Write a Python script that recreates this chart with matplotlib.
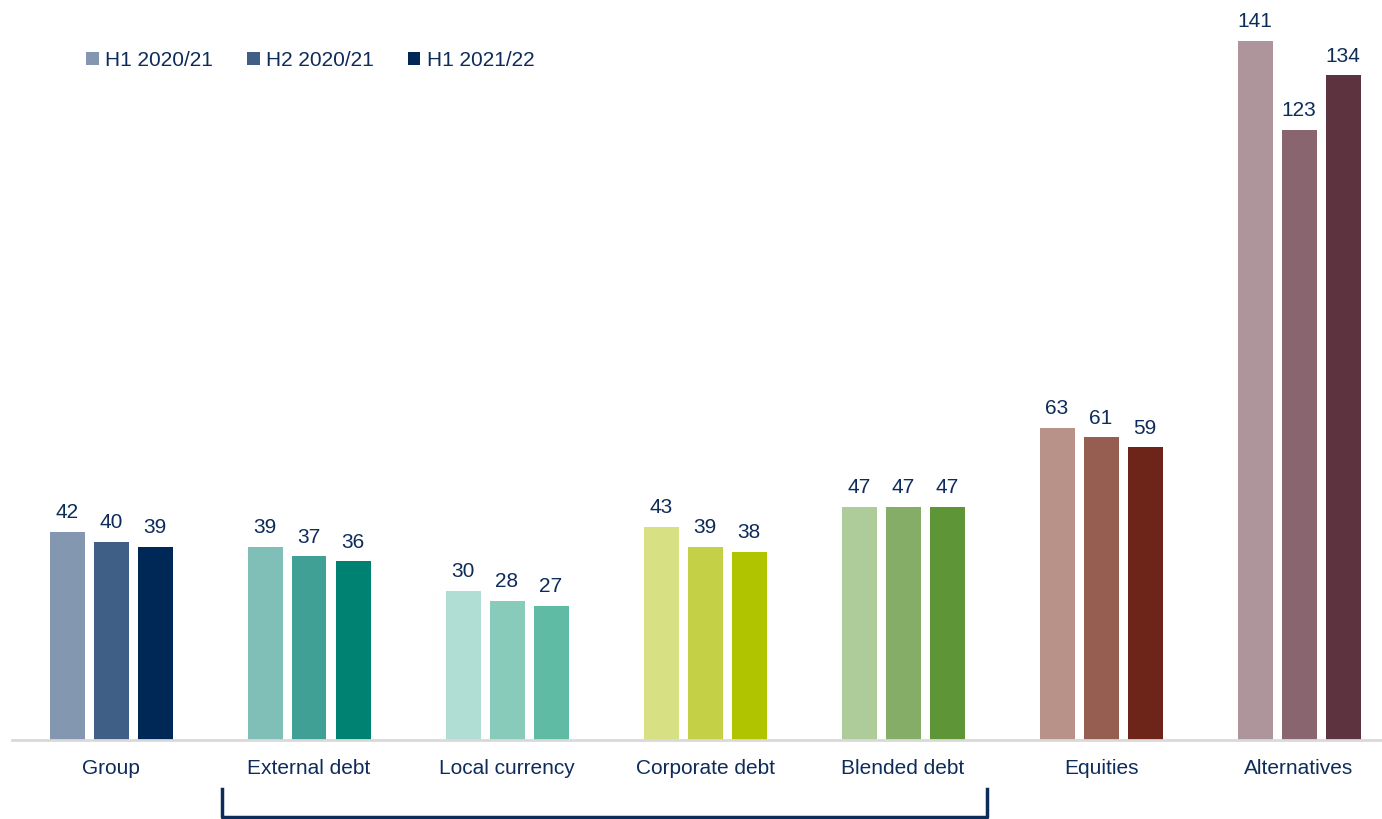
import matplotlib
matplotlib.use("Agg")
import matplotlib.pyplot as plt
from matplotlib.patches import Patch
from matplotlib.lines import Line2D

categories = ["Group", "External debt", "Local currency", "Corporate debt",
              "Blended debt", "Equities", "Alternatives"]
series_names = ["H1 2020/21", "H2 2020/21", "H1 2021/22"]
h1_2020 = [42, 39, 30, 43, 47, 63, 141]
h2_2020 = [40, 37, 28, 39, 47, 61, 123]
h1_2021 = [39, 36, 27, 38, 47, 59, 134]

colors = [
    ["#8497b0", "#3f5f87", "#002856"],
    ["#7fbfb7", "#40a095", "#008272"],
    ["#b0ddd4", "#88cbbb", "#5fbba3"],
    ["#d8e084", "#c4d146", "#b0c400"],
    ["#aecb9a", "#86ad67", "#5e9536"],
    ["#b89288", "#955e50", "#6d2419"],
    ["#ae959b", "#88656f", "#5e3340"],
]
TXT = "#0d2c5a"
FS = 15

plt.rcParams["font.family"] = ["Liberation Sans", "DejaVu Sans"]

W, H = 1382, 819
fig = plt.figure(figsize=(W / 100, H / 100), dpi=100)
ax = fig.add_axes([12 / W, 79 / H, (W - 12) / W, (H - 79) / H])

series = [h1_2020, h2_2020, h1_2021]
bw = 35 / 198
step = 44 / 198
for s, vals in enumerate(series):
    for i, v in enumerate(vals):
        x = i + (s - 1) * step
        ax.bar(x, v, width=bw, color=colors[i][s], zorder=2)
        ax.annotate(f"{v}", (x, v), xytext=(0, 7), textcoords="offset points",
                    ha="center", va="bottom", fontsize=FS, color=TXT)

ax.set_xlim(-0.5, (W - 12) / 198 - 0.5)
ax.set_ylim(0, 740 / 4.96)
ax.set_xticks(range(len(categories)))
ax.set_xticklabels(categories, fontsize=FS, color=TXT)
ax.tick_params(axis="x", length=0, pad=14)
ax.set_yticks([])
for sp in ["top", "right", "left"]:
    ax.spines[sp].set_visible(False)
ax.spines["bottom"].set_color("#d9d9d9")
ax.spines["bottom"].set_linewidth(2)

handles = [Patch(facecolor=colors[0][k], edgecolor="none") for k in range(3)]
leg = fig.legend(handles, series_names, loc="upper left",
                 bbox_to_anchor=(86 / W, 1 - 51 / H), ncol=3, frameon=False,
                 fontsize=FS, handlelength=0.6, handleheight=0.6,
                 handletextpad=0.3, columnspacing=1.65, borderaxespad=0,
                 borderpad=0)
for t in leg.get_texts():
    t.set_color(TXT)

# bracket under debt categories
x0, x1 = 222 / W, 987 / W
yt, yb = 1 - 789 / H, 1 - 817 / H
fig.add_artist(Line2D([x0, x0, x1, x1], [yt, yb, yb, yt], color="#0d2c5a",
                      linewidth=2.5, solid_joinstyle="round",
                      transform=fig.transFigure))

fig.savefig("out.png", dpi=100)
